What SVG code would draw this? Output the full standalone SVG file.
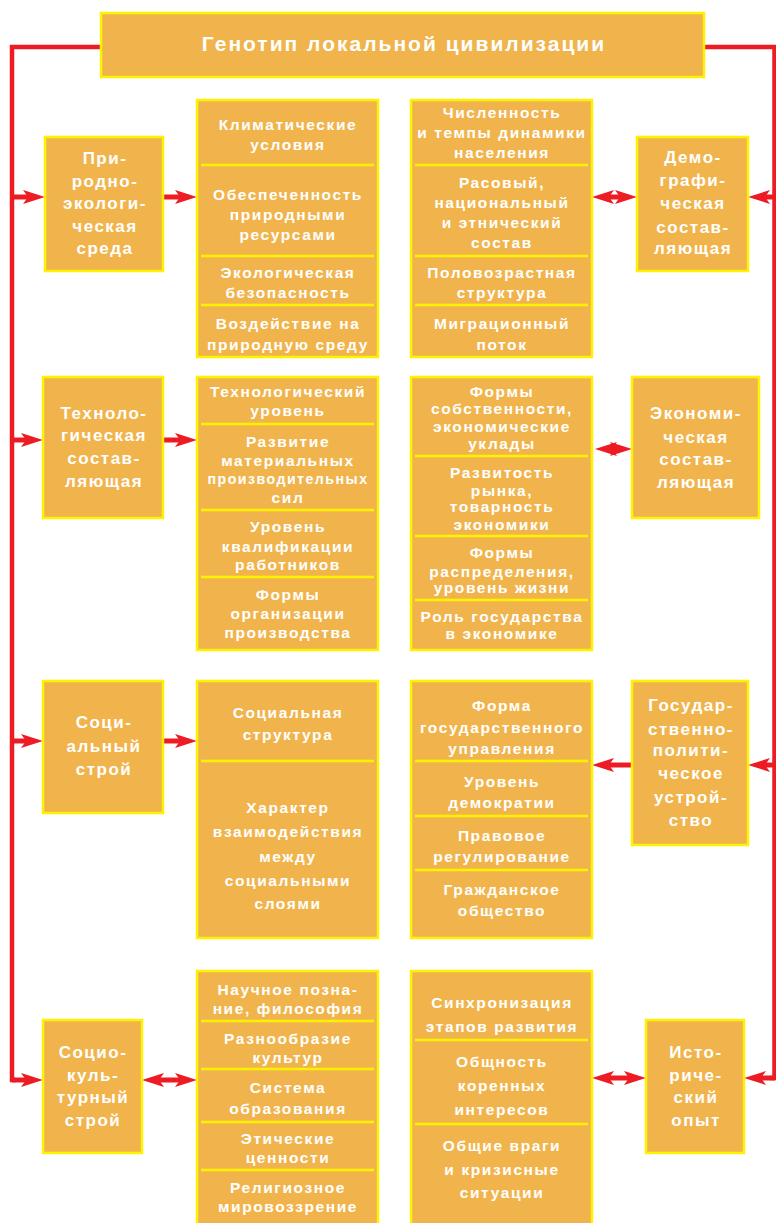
<svg xmlns="http://www.w3.org/2000/svg" width="776" height="1223" viewBox="0 0 776 1223">
<defs>
<style>
.box{fill:#F1B44C;stroke:#FFF200;stroke-width:2.5}
.div{stroke:#FFF200;stroke-width:2.5}
text{font-family:"Liberation Sans",Arial,sans-serif;font-weight:bold;fill:#FFFFFF;text-anchor:middle}
.t{font-size:15.5px;letter-spacing:1.6px}
.c{font-size:17px;letter-spacing:1.5px}
.h{font-size:21px;letter-spacing:2px}
.trunk{fill:none;stroke:#ED1C24;stroke-width:4.5}
.arr{fill:none;stroke:#ED1C24;stroke-width:5}
</style>
<marker id="ah" viewBox="0 0 22 14" refX="12" refY="7" markerWidth="22" markerHeight="14" markerUnits="userSpaceOnUse" orient="auto-start-reverse">
<path d="M0,0 L22,7 L0,14 L5,7 Z" fill="#ED1C24"/>
</marker>
</defs>
<rect width="776" height="1223" fill="#FFFFFF"/>

<g id="connectors">
<path class="trunk" d="M101,47 H12 V1080 H16"/>
<path class="trunk" d="M705,47 H774.5 V1078 H770"/>
<line class="arr" x1="12" y1="197" x2="35" y2="197" marker-end="url(#ah)"/>
<line class="arr" x1="163" y1="197" x2="187" y2="197" marker-end="url(#ah)"/>
<line class="arr" x1="602" y1="197" x2="627" y2="197" marker-start="url(#ah)" marker-end="url(#ah)"/>
<line class="arr" x1="775" y1="197" x2="758" y2="197" marker-end="url(#ah)"/>
<line class="arr" x1="12" y1="440" x2="33" y2="440" marker-end="url(#ah)"/>
<line class="arr" x1="163" y1="440" x2="187" y2="440" marker-end="url(#ah)"/>
<line class="arr" x1="605" y1="449" x2="622" y2="449" marker-start="url(#ah)" marker-end="url(#ah)"/>
<line class="arr" x1="12" y1="741" x2="33" y2="741" marker-end="url(#ah)"/>
<line class="arr" x1="163" y1="741" x2="187" y2="741" marker-end="url(#ah)"/>
<line class="arr" x1="775" y1="765" x2="758" y2="765" marker-end="url(#ah)"/>
<line class="arr" x1="632" y1="765" x2="602" y2="765" marker-end="url(#ah)"/>
<line class="arr" x1="12" y1="1080" x2="33" y2="1080" marker-end="url(#ah)"/>
<line class="arr" x1="152" y1="1080" x2="187" y2="1080" marker-start="url(#ah)" marker-end="url(#ah)"/>
<line class="arr" x1="775" y1="1078" x2="754" y2="1078" marker-end="url(#ah)"/>
<line class="arr" x1="602" y1="1078" x2="636" y2="1078" marker-start="url(#ah)" marker-end="url(#ah)"/>
</g>

<g id="title">
<rect class="box" x="101" y="13" width="603" height="64"/>
<text class="h" x="404" y="51">Генотип локальной цивилизации</text>
</g>

<g id="nature">
<rect class="box" x="45" y="137" width="118" height="134"/>
<text class="c" x="105" y="164">При-</text>
<text class="c" x="105" y="187">родно-</text>
<text class="c" x="105" y="209">экологи-</text>
<text class="c" x="105" y="232">ческая</text>
<text class="c" x="105" y="254">среда</text>
</g>

<g id="nature-list">
<rect class="box" x="197" y="100" width="181" height="257"/>
<line class="div" x1="201" y1="165" x2="374" y2="165"/>
<line class="div" x1="201" y1="256" x2="374" y2="256"/>
<line class="div" x1="201" y1="305" x2="374" y2="305"/>
<text class="t" x="288" y="130">Климатические</text>
<text class="t" x="288" y="150">условия</text>
<text class="t" x="288" y="200">Обеспеченность</text>
<text class="t" x="288" y="220">природными</text>
<text class="t" x="288" y="240">ресурсами</text>
<text class="t" x="288" y="278">Экологическая</text>
<text class="t" x="288" y="298">безопасность</text>
<text class="t" x="288" y="329">Воздействие на</text>
<text class="t" x="288" y="350">природную среду</text>
</g>

<g id="demo-list">
<rect class="box" x="411" y="100" width="181" height="257"/>
<line class="div" x1="415" y1="165" x2="588" y2="165"/>
<line class="div" x1="415" y1="256" x2="588" y2="256"/>
<line class="div" x1="415" y1="305" x2="588" y2="305"/>
<text class="t" x="502" y="118">Численность</text>
<text class="t" x="502" y="138">и темпы динамики</text>
<text class="t" x="502" y="158">населения</text>
<text class="t" x="502" y="188">Расовый,</text>
<text class="t" x="502" y="208">национальный</text>
<text class="t" x="502" y="228">и этнический</text>
<text class="t" x="502" y="248">состав</text>
<text class="t" x="502" y="278">Половозрастная</text>
<text class="t" x="502" y="298">структура</text>
<text class="t" x="502" y="329">Миграционный</text>
<text class="t" x="502" y="350">поток</text>
</g>

<g id="demo">
<rect class="box" x="637" y="137" width="111" height="134"/>
<text class="c" x="693" y="163">Демо-</text>
<text class="c" x="693" y="186">графи-</text>
<text class="c" x="693" y="209">ческая</text>
<text class="c" x="693" y="233">состав-</text>
<text class="c" x="693" y="254">ляющая</text>
</g>

<g id="tech">
<rect class="box" x="43" y="377" width="120" height="141"/>
<text class="c" x="104" y="419">Техноло-</text>
<text class="c" x="104" y="441">гическая</text>
<text class="c" x="104" y="464">состав-</text>
<text class="c" x="104" y="487">ляющая</text>
</g>

<g id="tech-list">
<rect class="box" x="197" y="377" width="181" height="273"/>
<line class="div" x1="201" y1="424" x2="374" y2="424"/>
<line class="div" x1="201" y1="510" x2="374" y2="510"/>
<line class="div" x1="201" y1="577" x2="374" y2="577"/>
<text class="t" x="288" y="397">Технологический</text>
<text class="t" x="288" y="416">уровень</text>
<text class="t" x="288" y="447">Развитие</text>
<text class="t" x="288" y="466">материальных</text>
<text class="t" x="288" y="484" textLength="161" lengthAdjust="spacingAndGlyphs">производительных</text>
<text class="t" x="288" y="503">сил</text>
<text class="t" x="288" y="532">Уровень</text>
<text class="t" x="288" y="552">квалификации</text>
<text class="t" x="288" y="570">работников</text>
<text class="t" x="288" y="600">Формы</text>
<text class="t" x="288" y="619">организации</text>
<text class="t" x="288" y="638">производства</text>
</g>

<g id="econ-list">
<rect class="box" x="411" y="377" width="181" height="273"/>
<line class="div" x1="415" y1="456" x2="588" y2="456"/>
<line class="div" x1="415" y1="536" x2="588" y2="536"/>
<line class="div" x1="415" y1="600" x2="588" y2="600"/>
<text class="t" x="502" y="397">Формы</text>
<text class="t" x="502" y="414">собственности,</text>
<text class="t" x="502" y="432">экономические</text>
<text class="t" x="502" y="449">уклады</text>
<text class="t" x="502" y="478">Развитость</text>
<text class="t" x="502" y="496">рынка,</text>
<text class="t" x="502" y="512">товарность</text>
<text class="t" x="502" y="530">экономики</text>
<text class="t" x="502" y="558">Формы</text>
<text class="t" x="502" y="577">распределения,</text>
<text class="t" x="502" y="593">уровень жизни</text>
<text class="t" x="502" y="622">Роль государства</text>
<text class="t" x="502" y="639">в экономике</text>
</g>

<g id="econ">
<rect class="box" x="632" y="377" width="127" height="141"/>
<text class="c" x="696" y="419">Экономи-</text>
<text class="c" x="696" y="443">ческая</text>
<text class="c" x="696" y="465">состав-</text>
<text class="c" x="696" y="488">ляющая</text>
</g>

<g id="social">
<rect class="box" x="43" y="681" width="120" height="132"/>
<text class="c" x="104" y="728">Соци-</text>
<text class="c" x="104" y="752">альный</text>
<text class="c" x="104" y="775">строй</text>
</g>

<g id="social-list">
<rect class="box" x="197" y="681" width="181" height="257"/>
<line class="div" x1="201" y1="761" x2="374" y2="761"/>
<text class="t" x="288" y="718">Социальная</text>
<text class="t" x="288" y="740">структура</text>
<text class="t" x="288" y="813">Характер</text>
<text class="t" x="288" y="837">взаимодействия</text>
<text class="t" x="288" y="862">между</text>
<text class="t" x="288" y="886">социальными</text>
<text class="t" x="288" y="909">слоями</text>
</g>

<g id="state-list">
<rect class="box" x="411" y="681" width="181" height="257"/>
<line class="div" x1="415" y1="761" x2="588" y2="761"/>
<line class="div" x1="415" y1="816" x2="588" y2="816"/>
<line class="div" x1="415" y1="870" x2="588" y2="870"/>
<text class="t" x="502" y="711">Форма</text>
<text class="t" x="502" y="733">государственного</text>
<text class="t" x="502" y="754">управления</text>
<text class="t" x="502" y="787">Уровень</text>
<text class="t" x="502" y="808">демократии</text>
<text class="t" x="502" y="841">Правовое</text>
<text class="t" x="502" y="862">регулирование</text>
<text class="t" x="502" y="895">Гражданское</text>
<text class="t" x="502" y="916">общество</text>
</g>

<g id="state">
<rect class="box" x="632" y="681" width="116" height="164"/>
<text class="c" x="691" y="711">Государ-</text>
<text class="c" x="691" y="735">ственно-</text>
<text class="c" x="691" y="756">полити-</text>
<text class="c" x="691" y="779">ческое</text>
<text class="c" x="691" y="803">устрой-</text>
<text class="c" x="691" y="826">ство</text>
</g>

<g id="culture">
<rect class="box" x="43" y="1020" width="99" height="133"/>
<text class="c" x="93" y="1058">Социо-</text>
<text class="c" x="93" y="1081">куль-</text>
<text class="c" x="93" y="1103">турный</text>
<text class="c" x="93" y="1126">строй</text>
</g>

<g id="culture-list">
<rect class="box" x="197" y="971" width="181" height="262"/>
<line class="div" x1="201" y1="1021" x2="374" y2="1021"/>
<line class="div" x1="201" y1="1069" x2="374" y2="1069"/>
<line class="div" x1="201" y1="1122" x2="374" y2="1122"/>
<line class="div" x1="201" y1="1170" x2="374" y2="1170"/>
<text class="t" x="288" y="995">Научное позна-</text>
<text class="t" x="288" y="1014">ние, философия</text>
<text class="t" x="288" y="1044">Разнообразие</text>
<text class="t" x="288" y="1063">культур</text>
<text class="t" x="288" y="1093">Система</text>
<text class="t" x="288" y="1114">образования</text>
<text class="t" x="288" y="1144">Этические</text>
<text class="t" x="288" y="1163">ценности</text>
<text class="t" x="288" y="1193">Религиозное</text>
<text class="t" x="288" y="1212">мировоззрение</text>
</g>

<g id="history-list">
<rect class="box" x="411" y="971" width="181" height="262"/>
<line class="div" x1="415" y1="1040" x2="588" y2="1040"/>
<line class="div" x1="415" y1="1124" x2="588" y2="1124"/>
<text class="t" x="502" y="1008">Синхронизация</text>
<text class="t" x="502" y="1032">этапов развития</text>
<text class="t" x="502" y="1067">Общность</text>
<text class="t" x="502" y="1091">коренных</text>
<text class="t" x="502" y="1115">интересов</text>
<text class="t" x="502" y="1151">Общие враги</text>
<text class="t" x="502" y="1175">и кризисные</text>
<text class="t" x="502" y="1198">ситуации</text>
</g>

<g id="history">
<rect class="box" x="646" y="1020" width="98" height="133"/>
<text class="c" x="696" y="1058">Исто-</text>
<text class="c" x="696" y="1081">риче-</text>
<text class="c" x="696" y="1103">ский</text>
<text class="c" x="696" y="1126">опыт</text>
</g>
</svg>
